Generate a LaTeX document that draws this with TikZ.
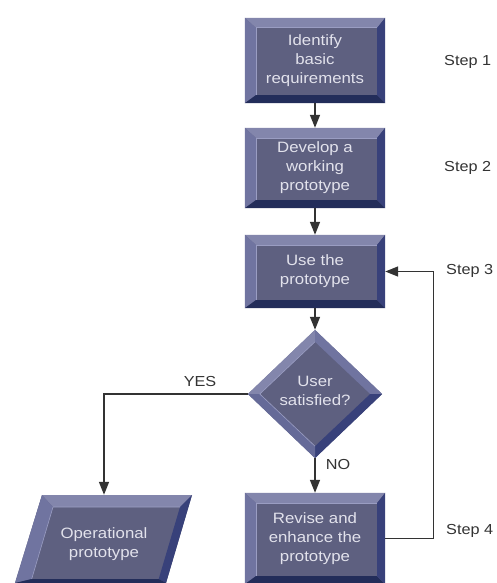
\documentclass[tikz,border=0pt]{standalone}
\usepackage{fontspec}
\setmainfont[FakeStretch=1.12]{Liberation Sans}
\usetikzlibrary{arrows.meta,shapes.geometric}
\definecolor{face}{HTML}{5E6080}
\definecolor{bevtop}{HTML}{8386AC}
\definecolor{bevleft}{HTML}{7074A0}
\definecolor{bevbot}{HTML}{232D5A}
\definecolor{bevright}{HTML}{38417A}
\definecolor{bevlight}{HTML}{9A9DC2}
\definecolor{txt}{HTML}{E2E2EC}
\definecolor{linec}{HTML}{333333}
\tikzset{
  stepbox/.style={rectangle, fill=face, minimum width=140pt, inner sep=0pt, text=txt, align=center, font=\fontsize{15}{19}\selectfont},
  decision/.style={diamond, fill=face, minimum width=134pt, minimum height=128pt, inner sep=0pt, text=txt, align=center, font=\fontsize{15}{19}\selectfont},
  iobox/.style={rectangle, inner sep=0pt, minimum width=100pt, text=txt, align=center, font=\fontsize{15}{19}\selectfont},
  conn/.style={draw=linec, line width=1.4pt, -{Triangle[length=13pt,width=10pt]}},
  steplabel/.style={text=linec, font=\fontsize{14.5}{17}\selectfont, anchor=west, inner sep=0pt},
  flowlabel/.style={text=linec, font=\fontsize{14.5}{17}\selectfont, inner sep=0pt},
}
\newcommand\mybevel[1]{%
  \fill[bevtop] (#1.north west) -- (#1.north east) -- ([xshift=-8pt,yshift=-10pt]#1.north east) -- ([xshift=11pt,yshift=-10pt]#1.north west) -- cycle;
  \fill[bevleft] (#1.north west) -- ([xshift=11pt,yshift=-10pt]#1.north west) -- ([xshift=11pt,yshift=8pt]#1.south west) -- (#1.south west) -- cycle;
  \fill[bevbot] (#1.south west) -- ([xshift=11pt,yshift=8pt]#1.south west) -- ([xshift=-8pt,yshift=8pt]#1.south east) -- (#1.south east) -- cycle;
  \fill[bevright] (#1.north east) -- (#1.south east) -- ([xshift=-8pt,yshift=8pt]#1.south east) -- ([xshift=-8pt,yshift=-10pt]#1.north east) -- cycle;
  \draw[bevlight, line width=0.6pt] ([xshift=11pt,yshift=8pt]#1.south west) -- ([xshift=11pt,yshift=-10pt]#1.north west) -- ([xshift=-8pt,yshift=-10pt]#1.north east);
}
\begin{document}
\begin{tikzpicture}[x=1pt,y=-1pt]
  \fill[white] (0,0) rectangle (497,583);
  \useasboundingbox (0,0) rectangle (497,583);

  % process boxes
  \node[stepbox, minimum height=85pt] (b1) at (315,60.5) {};
  \node[stepbox, minimum height=80pt] (b2) at (315,168) {};
  \node[stepbox, minimum height=73pt] (b3) at (315,271.5) {};
  \node[stepbox, minimum height=91pt] (b4) at (315,538.5) {};
  \mybevel{b1}\mybevel{b2}\mybevel{b3}\mybevel{b4}
  \node[stepbox, fill=none] at (b1) {Identify\\basic\\requirements};
  \node[stepbox, fill=none] at (b2) {Develop a\\working\\prototype};
  \node[stepbox, fill=none] at (b3) {Use the\\prototype};
  \node[stepbox, fill=none] at (b4) {Revise and\\enhance the\\prototype};

  % decision
  \node[decision] (d) at (315,394) {};
  \fill[bevtop] (d.west) -- (d.north) -- ([yshift=-12pt]d.north) -- ([xshift=12pt]d.west) -- cycle;
  \fill[bevleft] (d.north) -- (d.east) -- ([xshift=-12pt]d.east) -- ([yshift=-12pt]d.north) -- cycle;
  \fill[bevright] (d.east) -- (d.south) -- ([yshift=12pt]d.south) -- ([xshift=-12pt]d.east) -- cycle;
  \fill[bevleft!80!bevright] (d.south) -- (d.west) -- ([xshift=12pt]d.west) -- ([yshift=12pt]d.south) -- cycle;
  \draw[bevlight, line width=0.6pt] ([yshift=12pt]d.south) -- ([xshift=12pt]d.west) -- ([yshift=-12pt]d.north);
  \node[text=txt, align=center, font=\fontsize{15}{19}\selectfont, inner sep=0pt] at ([yshift=3pt]d.center) {User\\satisfied?};

  % input/output parallelogram
  \fill[face] (42,495) -- (192,495) -- (166,583) -- (15,583) -- cycle;
  \fill[bevtop] (42,495) -- (192,495) -- (180,507) -- (53,507) -- cycle;
  \fill[bevright] (192,495) -- (180,507) -- (158.7,579) -- (166,583) -- cycle;
  \fill[bevleft] (42,495) -- (53,507) -- (31.7,579) -- (15,583) -- cycle;
  \fill[bevbot] (15,583) -- (31.7,579) -- (158.7,579) -- (166,583) -- cycle;
  \draw[bevlight, line width=0.6pt] (31.7,579) -- (53,507) -- (180,507);
  \node[iobox, minimum height=98pt] (op) at (104,544) {Operational\\prototype};

  % connectors
  \draw[conn] (b1) -- (b2);
  \draw[conn] (b2) -- (b3);
  \draw[conn] (b3) -- (d);
  \draw[conn] (d) -- (b4);
  \draw[conn] (d.west) -| (op.north);
  \draw[conn] (b4.east) -- ++(48,0) |- (b3.east);

  % labels
  \node[flowlabel] (yes) at (200,382) {YES};
  \node[flowlabel] (no) at (338,465) {NO};
  \node[steplabel] (s1) at (444,62) {Step 1};
  \node[steplabel] (s2) at (444,168) {Step 2};
  \node[steplabel] (s3) at (446,271) {Step 3};
  \node[steplabel] (s4) at (446,531) {Step 4};
\end{tikzpicture}
\end{document}
